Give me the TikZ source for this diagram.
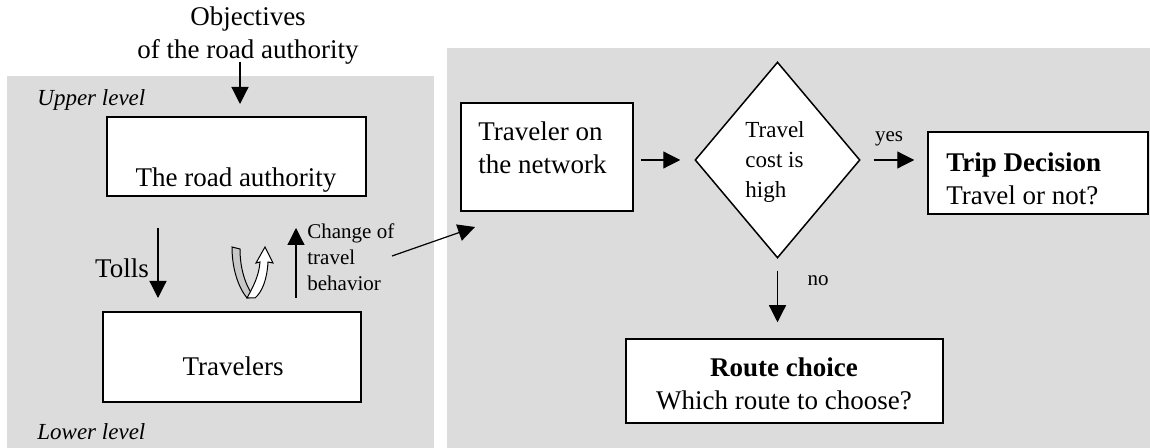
\documentclass[tikz,border=0pt]{standalone}
\usepackage{fontspec}
\setmainfont{Liberation Serif}
\usetikzlibrary{arrows.meta,shapes.geometric,calc}
\definecolor{panel}{HTML}{DCDCDC}
\definecolor{ribbon}{HTML}{C8C8C8}

\begin{document}
\begin{tikzpicture}[x=0.5pt,y=-0.5pt,
  box/.style={draw, fill=white, line width=0.75pt, inner sep=0pt},
  arr/.style={-{Triangle[length=8.5pt,width=8.5pt]}, line width=0.6pt},
  main/.style={font=\fontsize{13.5}{16.5}\selectfont, inner sep=0pt},
  small/.style={font=\fontsize{11.5}{15}\selectfont, inner sep=0pt},
  note/.style={font=\fontsize{10.5}{13}\selectfont, inner sep=0pt},
]
\useasboundingbox (0,0) rectangle (1150,448);
\fill[white] (0,0) rectangle (1150,448);

% the two grey panels
\fill[panel] (7,76) rectangle (434,448);
\fill[panel] (447,48) rectangle (1150,448);

% ---- bi-level model (left panel) ----
\node[main, align=center] (obj) at (248,36) {Objectives\\of the road authority};
\node[small, anchor=west] (up) at (37,100) {\itshape Upper level};
\node[small, anchor=west] (low) at (37,432) {\itshape Lower level};

\node[box, minimum width=129.5pt, minimum height=39.5pt] (ra) at (236.5,156.5) {};
\node[main] (ratext) at (236,180) {The road authority};

\node[box, minimum width=129pt, minimum height=45pt] (tr) at (232,357) {};
\node[main] (trtext) at (233,366) {Travelers};

\coordinate (o1) at (240,62);
\coordinate (o2) at (240,104);
\draw[arr] (o1) -- (o2);

\coordinate (t1) at (158,228);
\coordinate (t2) at (158,298);
\draw[arr] (t1) -- (t2);
\node[main] (tolls) at (122,268) {Tolls};

\coordinate (b1) at (296,298);
\coordinate (b2) at (296,228);
\draw[arr] (b1) -- (b2);
\node[note, align=left, anchor=west] (chg) at (307,257) {Change of\\travel\\behavior};

% U-turn symbol: grey back strip and white front arrow
\filldraw[fill=ribbon, line width=0.5pt]
  (232,247) -- (240,249) .. controls (240,268) and (245,285) .. (254,297)
  -- (247,298) .. controls (238,287) and (232,268) .. (232,247) -- cycle;
\filldraw[fill=white, line width=0.5pt]
  (247,298) .. controls (253,287) and (259,276) .. (260,262)
  -- (256,263) -- (265,247) -- (273,263) -- (268,262)
  .. controls (267,280) and (262,292) .. (255,298) -- cycle;

\coordinate (d1) at (392,256);
\coordinate (d2) at (475,227);
\draw[arr] (d1) -- (d2);

% ---- travel decision flow (right panel) ----
\node[box, minimum width=86pt, minimum height=54pt] (ton) at (547,157) {};
\node[main, align=left, anchor=west] (tontext) at (478,148) {Traveler on\\the network};

\node[diamond, draw, fill=white, line width=0.75pt, inner sep=0pt,
      minimum width=82.5pt, minimum height=98pt] (dec) at (777.5,160) {};
\node[small, align=left] (dectext) at (775,162) {Travel\\cost is\\high};

\node[box, minimum width=110pt, minimum height=41pt] (td) at (1038,173) {};
\node[main, align=left, anchor=west] (tdtext) at (946,179)
  {\textbf{Trip Decision}\\Travel or not?};

\node[box, minimum width=158.5pt, minimum height=42pt] (rc) at (784.5,381) {};
\node[main, align=center] (rctext) at (784,384)
  {\textbf{Route choice}\\Which route to choose?};

\draw[arr, shorten <=3.5pt, shorten >=7pt] (ton.east |- dec.west) -- (dec.west);
\draw[arr, shorten <=6.5pt, shorten >=6.5pt] (dec.east) -- (dec.east -| td.west);
\node[note] (yes) at (889,139) {yes};
\draw[arr, shorten <=6pt, shorten >=8pt] (dec.south) -- (dec.south |- rc.north);
\node[note] (no) at (818,281) {no};
\end{tikzpicture}
\end{document}
